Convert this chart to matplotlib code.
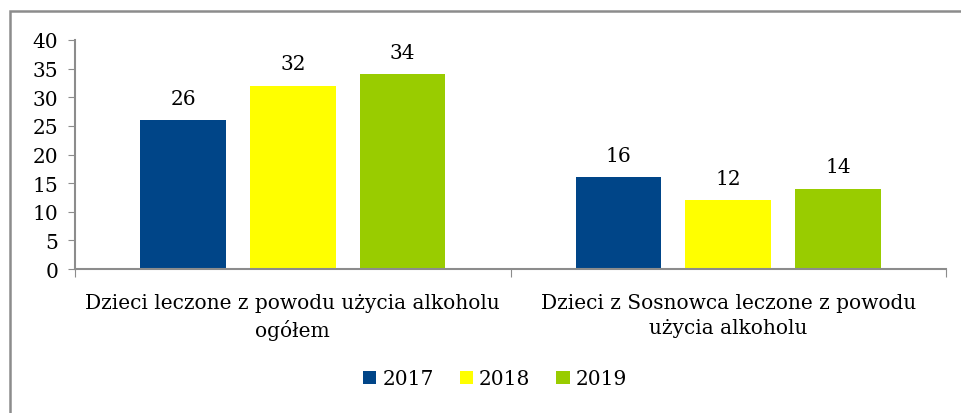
import numpy as np
import matplotlib.pyplot as plt
from matplotlib.patches import Rectangle

categories = ["Dzieci leczone z powodu użycia alkoholu\nogółem",
              "Dzieci z Sosnowca leczone z powodu\nużycia alkoholu"]
years = ["2017", "2018", "2019"]
values = [[26, 16], [32, 12], [34, 14]]
colors = ["#004588", "#FFFF00", "#99CC00"]

plt.rcParams['font.family'] = ['DejaVu Serif']

fig = plt.figure(figsize=(9.62, 4.14), dpi=100)
ax = fig.add_axes([75 / 962, 1 - 270 / 414, 871 / 962, 229 / 414])

# grey frame around the whole chart area
fig.patches.append(Rectangle((9.5 / 962, -0.1), 1.2, 1 - 11.5 / 414 + 0.1,
                             transform=fig.transFigure, fill=False,
                             edgecolor="#8c8c8c", linewidth=1.8))

x = np.arange(len(categories))
w = 0.197
offs = [-0.252, 0, 0.252]
for i, yr in enumerate(years):
    bars = ax.bar(x + offs[i], values[i], w, color=colors[i], label=yr)
    for b, v in zip(bars, values[i]):
        ax.text(b.get_x() + b.get_width() / 2, v + 2.2, str(v),
                ha="center", va="bottom", fontsize=14.5)

ax.set_xlim(-0.5, 1.5)
ax.set_ylim(0, 40)
ax.set_yticks(range(0, 41, 5))
ax.tick_params(axis="y", labelsize=14.5, length=5, color="#8c8c8c", pad=7)
ax.set_xticks([-0.5, 0.5, 1.5])
ax.set_xticklabels([])
ax.set_xticks(x, minor=True)
ax.set_xticklabels(categories, minor=True, fontsize=14.5, linespacing=1.45)
ax.tick_params(axis="x", which="major", length=6, color="#8c8c8c")
ax.tick_params(axis="x", which="minor", length=0, pad=17)
for s in ["top", "right"]:
    ax.spines[s].set_visible(False)
for s in ["left", "bottom"]:
    ax.spines[s].set_color("#8c8c8c")
    ax.spines[s].set_linewidth(1.5)

fig.legend(loc="center", bbox_to_anchor=(495 / 962, 1 - 380 / 414), ncol=3,
           frameon=False, fontsize=14.5, handlelength=0.65, handleheight=0.65,
           handletextpad=0.3, columnspacing=1.3)

fig.savefig("out.png", dpi=100)
